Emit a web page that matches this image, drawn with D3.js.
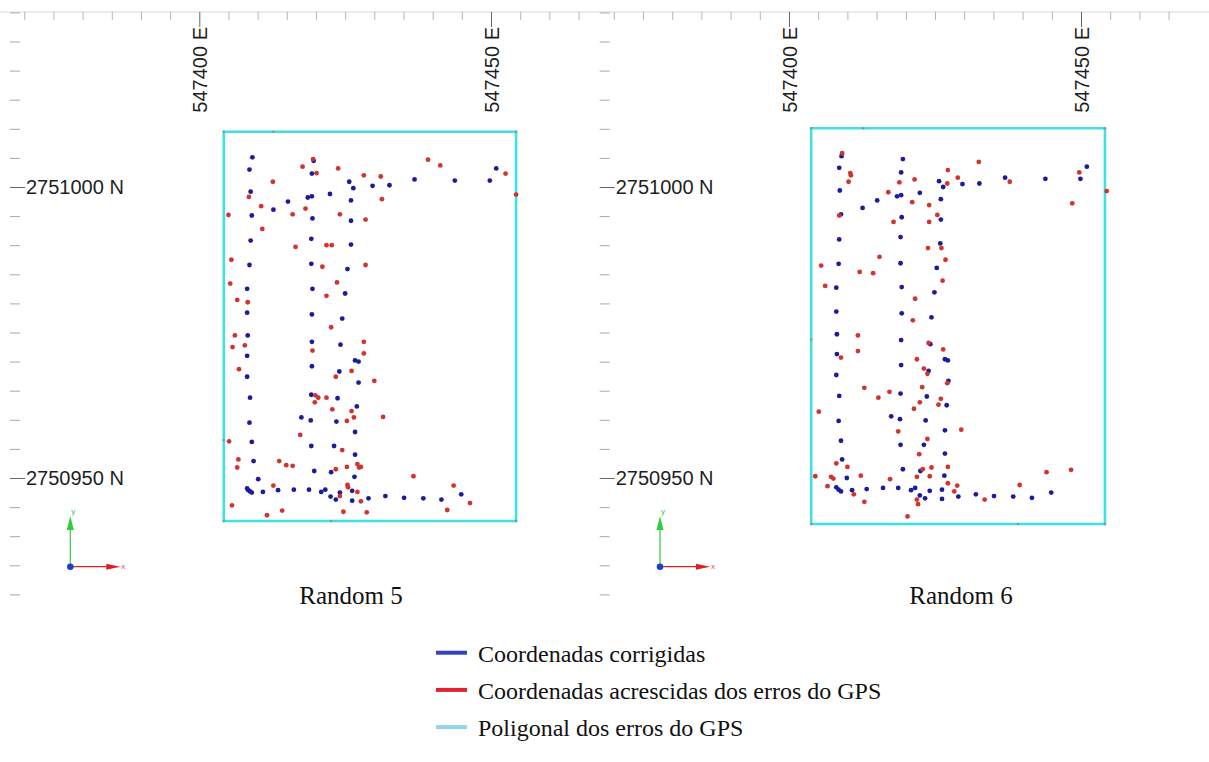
<!DOCTYPE html>
<html>
<head>
<meta charset="utf-8">
<script src="https://cdn.jsdelivr.net/npm/d3@7"></script>
<style>
  body { margin: 0; background: #fff; }
</style>
</head>
<body>
<div id="chart"></div>
<script>
// tick values (UTM metres)
var eastTicks = d3.range(547370, 547466, 5);
var eastLabels = [547400, 547450];
var northTicks = d3.range(2750930, 2751031, 5);
var northLabels = [2751000, 2750950];

var panelNames = ["Random 5", "Random 6"];
var legendLabels = ["Coordenadas corrigidas", "Coordenadas acrescidas dos erros do GPS", "Poligonal dos erros do GPS"];

// Random 5
var r5Corrected = [
  [547409.1,2751005.1],[547408.6,2751003.0],[547419.6,2751004.5],[547419.3,2751002.3],[547450.9,2751003.2],
  [547425.7,2751000.9],[547426.4,2750999.8],[547429.7,2751000.2],[547432.6,2751000.3],[547436.9,2751001.3],
  [547443.8,2751001.1],[547449.8,2751001.1],[547408.8,2750999.2],[547415.2,2750997.5],[547418.6,2750998.2],
  [547419.3,2750998.4],[547422.4,2750998.8],[547426.0,2750997.7],[547412.7,2750996.1],[547409.0,2750995.1],
  [547419.4,2750994.6],[547426.0,2750994.2],[547408.8,2750990.8],[547419.2,2750991.1],[547426.0,2750990.1],
  [547408.6,2750986.6],[547419.2,2750986.8],[547425.4,2750985.9],[547408.2,2750982.5],[547419.4,2750982.5],
  [547425.0,2750981.7],[547408.2,2750978.4],[547419.3,2750978.1],[547424.5,2750977.4],[547408.3,2750974.5],
  [547419.3,2750973.4],[547424.2,2750972.9],[547408.2,2750971.0],[547426.7,2750970.2],[547427.3,2750970.0],
  [547419.3,2750969.2],[547424.0,2750968.3],[547408.2,2750967.4],[547427.3,2750966.4],[547408.7,2750963.8],
  [547419.2,2750964.3],[547423.7,2750963.7],[547427.0,2750962.3],[547417.5,2750960.4],[547419.1,2750959.9],
  [547423.5,2750959.7],[547408.6,2750959.5],[547426.7,2750957.9],[547409.0,2750956.2],[547419.2,2750955.5],
  [547423.1,2750955.5],[547426.7,2750954.0],[547409.3,2750952.9],[547419.7,2750951.2],[547422.6,2750951.0],
  [547426.6,2750950.2],[547410.1,2750949.8],[547408.2,2750948.2],[547408.4,2750947.9],[547408.7,2750947.7],
  [547409.0,2750947.5],[547410.9,2750947.6],[547413.5,2750947.9],[547416.2,2750948.0],[547418.8,2750948.0],
  [547420.9,2750947.6],[547421.6,2750948.0],[547424.1,2750947.5],[547426.2,2750947.8],[547422.5,2750946.8],
  [547423.4,2750946.3],[547426.2,2750946.1],[547429.0,2750946.5],[547431.9,2750946.9],[547435.1,2750946.6],
  [547438.4,2750946.5],[547441.5,2750946.3],[547444.9,2750947.2]
];
var r5WithErrors = [
  [547419.5,2751004.8],[547417.7,2751003.5],[547420.1,2751002.4],[547423.8,2751003.2],[547412.6,2751000.9],
  [547439.2,2751004.7],[547441.3,2751003.7],[547452.5,2751002.3],[547454.3,2750998.7],[547428.2,2751002.0],
  [547431.1,2751001.8],[547408.5,2750998.3],[547431.3,2750997.9],[547410.6,2750996.7],[547418.2,2750996.3],
  [547405.0,2750995.2],[547416.0,2750995.3],[547424.1,2750995.3],[547428.5,2750994.4],[547410.8,2750992.8],
  [547416.5,2750989.7],[547421.8,2750990.0],[547422.7,2750990.0],[547405.5,2750987.5],[547421.1,2750986.3],
  [547428.5,2750986.6],[547405.3,2750983.4],[547423.6,2750983.6],[547421.8,2750981.3],[547406.5,2750980.6],
  [547408.3,2750980.2],[547422.6,2750975.9],[547406.1,2750974.5],[547405.7,2750972.5],[547407.8,2750972.8],
  [547428.2,2750973.4],[547419.4,2750971.9],[547428.2,2750971.4],[547406.8,2750968.7],[547426.1,2750968.4],
  [547423.4,2750967.4],[547430.0,2750966.7],[547419.9,2750964.2],[547420.4,2750963.8],[547421.8,2750963.8],
  [547419.8,2750963.0],[547422.8,2750961.8],[547426.1,2750961.5],[547426.5,2750960.4],[547431.5,2750960.5],
  [547425.3,2750959.8],[547417.3,2750957.4],[547405.1,2750956.3],[547424.5,2750954.8],[547406.7,2750953.2],
  [547413.7,2750952.9],[547414.9,2750952.2],[547416.0,2750952.1],[547406.5,2750951.8],[547427.1,2750952.4],
  [547427.7,2750951.9],[547427.4,2750951.8],[547425.3,2750951.9],[547423.4,2750951.5],[547436.7,2750950.3],
  [547412.7,2750948.7],[547425.4,2750948.8],[547425.5,2750948.4],[547443.6,2750948.7],[547424.1,2750946.9],
  [547427.1,2750947.6],[547427.7,2750946.0],[547446.4,2750945.7],[547442.5,2750944.5],[547405.6,2750945.3],
  [547414.2,2750944.4],[547411.6,2750943.6],[547424.7,2750944.2],[547428.7,2750944.1]
];
var r5Polygon = [
  [547404.2,2751009.5],[547412.7,2751009.5],[547454.3,2751009.5],[547454.3,2750942.6],
  [547422.6,2750942.6],[547404.2,2750942.6],[547404.2,2750956.5]
];

// Random 6
var r6Corrected = [
  [547409.0,2751005.3],[547419.5,2751004.8],[547408.6,2751003.3],[547419.2,2751002.5],[547425.7,2751001.0],
  [547426.4,2751000.0],[547429.7,2751000.5],[547432.6,2751000.6],[547437.0,2751001.6],[547443.9,2751001.4],
  [547451.0,2751003.5],[547449.9,2751001.4],[547408.7,2750999.4],[547418.5,2750998.4],[547419.2,2750998.6],
  [547422.4,2750999.0],[547415.1,2750997.7],[547426.0,2750997.9],[547412.6,2750996.4],[547408.9,2750995.3],
  [547419.3,2750994.8],[547426.0,2750994.4],[547408.6,2750991.0],[547419.1,2750991.4],[547425.9,2750990.3],
  [547408.5,2750986.8],[547419.1,2750986.9],[547425.3,2750986.1],[547408.1,2750982.7],[547419.3,2750982.8],
  [547424.9,2750981.9],[547408.1,2750978.6],[547419.3,2750978.3],[547424.4,2750977.6],[547408.2,2750974.7],
  [547419.2,2750973.7],[547424.2,2750973.0],[547408.2,2750971.3],[547419.2,2750969.4],[547426.7,2750970.4],
  [547427.2,2750970.2],[547423.9,2750968.4],[547408.1,2750967.7],[547427.3,2750966.7],[547419.1,2750964.5],
  [547408.6,2750964.1],[547423.6,2750964.0],[547427.0,2750962.5],[547417.5,2750960.6],[547419.0,2750960.1],
  [547408.5,2750959.8],[547423.4,2750959.9],[547426.7,2750958.2],[547408.9,2750956.4],[547419.1,2750955.7],
  [547423.1,2750955.7],[547426.7,2750954.2],[547409.1,2750953.2],[547419.5,2750951.5],[547422.5,2750951.2],
  [547409.9,2750950.0],[547426.6,2750950.4],[547408.1,2750948.4],[547408.5,2750948.0],[547408.9,2750947.7],
  [547410.8,2750947.9],[547413.3,2750948.1],[547416.1,2750948.3],[547418.7,2750948.3],[547420.9,2750947.9],
  [547421.6,2750948.3],[547424.1,2750947.8],[547426.2,2750948.0],[547429.0,2750946.8],[547432.0,2750947.2],
  [547435.1,2750946.9],[547438.4,2750946.8],[547441.6,2750946.6],[547444.9,2750947.5],[547422.4,2750947.0],
  [547423.3,2750946.5],[547426.2,2750946.4]
];
var r6WithErrors = [
  [547409.1,2751005.8],[547410.5,2751002.4],[547410.6,2751002.0],[547410.2,2751000.9],[547418.9,2751000.8],
  [547421.5,2751001.3],[547427.2,2751002.9],[547428.9,2751001.6],[547432.5,2751004.3],[547427.1,2751000.6],
  [547437.8,2751000.9],[547449.7,2751002.5],[547454.4,2750999.3],[547448.5,2750997.2],[547417.0,2750999.1],
  [547421.1,2750997.4],[547424.0,2750996.9],[547408.6,2750995.1],[547425.4,2750995.2],[547417.9,2750994.0],
  [547424.0,2750994.0],[547423.8,2750989.5],[547426.1,2750989.5],[547405.5,2750986.5],[547415.5,2750988.0],
  [547426.8,2750987.5],[547412.1,2750985.4],[547414.4,2750985.2],[547406.2,2750983.0],[547426.3,2750983.9],
  [547421.6,2750980.8],[547421.2,2750977.1],[547411.8,2750974.5],[547423.9,2750973.2],[547426.4,2750972.1],
  [547408.9,2750970.7],[547411.8,2750971.8],[547421.9,2750970.4],[547423.1,2750968.8],[547423.7,2750967.9],
  [547427.1,2750966.3],[547412.9,2750965.5],[547417.2,2750964.8],[547422.8,2750965.6],[547415.3,2750963.8],
  [547422.4,2750963.0],[547426.0,2750963.6],[547425.6,2750962.6],[547421.4,2750961.9],[547405.1,2750961.4],
  [547418.7,2750958.0],[547429.5,2750958.3],[547423.7,2750956.7],[547422.3,2750954.1],[547408.1,2750952.5],
  [547410.0,2750951.9],[547422.9,2750951.5],[547424.4,2750951.8],[547427.2,2750951.9],[547404.5,2750950.3],
  [547407.2,2750950.2],[547407.6,2750949.9],[547412.3,2750950.4],[547417.3,2750949.8],[547421.9,2750950.2],
  [547424.1,2750950.3],[547444.1,2750951.0],[547448.3,2750951.4],[547406.6,2750948.6],[547411.1,2750947.2],
  [547427.2,2750949.1],[547428.8,2750948.7],[547428.3,2750947.7],[547439.5,2750948.8],[547433.5,2750946.3],
  [547421.9,2750946.3],[547422.1,2750945.5],[547412.9,2750945.9],[547420.3,2750943.4]
];
var r6Polygon = [
  [547403.8,2751010.1],[547412.7,2751010.1],[547454.1,2751010.1],[547454.1,2750942.1],
  [547439.2,2750942.1],[547403.8,2750942.1],[547403.8,2750973.8]
];

var width = 1209, height = 762;
var blue = "#1b1b9e", red = "#d2332f", cyan = "#3fe0e6";
var legendColors = ["#3343bd", "#e0222e", "#93d3e6"];
var sansFont = "'Liberation Sans', Arial, sans-serif";
var serifFont = "'Liberation Serif', 'Times New Roman', serif";

var panels = [
  { name: panelNames[0], corrected: r5Corrected, errors: r5WithErrors, polygon: r5Polygon, xRange: [199.3, 491], titleX: 351 },
  { name: panelNames[1], corrected: r6Corrected, errors: r6WithErrors, polygon: r6Polygon, xRange: [789, 1081], titleX: 961 }
];

var y = d3.scaleLinear()
    .domain([2750950, 2751000])
    .range([478, 187]);

var svg = d3.select("#chart").append("svg")
    .attr("width", width)
    .attr("height", height)
    .style("font-family", sansFont);

// ruler line along the top
svg.append("line")
    .attr("x1", 0).attr("x2", width)
    .attr("y1", 12).attr("y2", 12)
    .attr("stroke", "#dadada");

panels.forEach(function(p) {
  var x = d3.scaleLinear()
      .domain([547400, 547450])
      .range(p.xRange);
  var dx = p.xRange[0] - panels[0].xRange[0];
  var g = svg.append("g");

  // top ruler, minor ticks
  g.append("g")
      .attr("transform", "translate(0,12)")
      .call(d3.axisBottom(x)
        .tickValues(eastTicks.filter(function(d) { return eastLabels.indexOf(d) < 0; }))
        .tickSize(8)
        .tickFormat(""))
      .call(function(a) {
        a.select(".domain").remove();
        a.selectAll("line").attr("stroke", "#b4b4b4");
      });

  // top ruler, labelled ticks (text rotated)
  g.append("g")
      .attr("transform", "translate(0,12)")
      .call(d3.axisBottom(x)
        .tickValues(eastLabels)
        .tickSize(15)
        .tickFormat(function(d) { return d + " E"; }))
      .call(function(a) {
        a.select(".domain").remove();
        a.selectAll("line").attr("stroke", "#666");
        a.selectAll("text")
          .attr("transform", "rotate(-90)")
          .attr("x", -15)
          .attr("y", 7)
          .attr("dy", null)
          .attr("text-anchor", "end")
          .attr("font-size", 20)
          .attr("font-family", sansFont)
          .attr("fill", "#1e1e1e");
      });

  // left ruler
  g.append("g")
      .attr("transform", "translate(" + (10 + dx) + ",0)")
      .call(d3.axisRight(y)
        .tickValues(northTicks.filter(function(d) { return northLabels.indexOf(d) < 0; }))
        .tickSize(10)
        .tickFormat(""))
      .call(function(a) {
        a.select(".domain").remove();
        a.selectAll("line").attr("stroke", "#a8a8a8");
      });

  g.append("g")
      .attr("transform", "translate(" + (10 + dx) + ",0)")
      .call(d3.axisRight(y)
        .tickValues(northLabels)
        .tickSize(15)
        .tickPadding(1)
        .tickFormat(function(d) { return d + " N"; }))
      .call(function(a) {
        a.select(".domain").remove();
        a.selectAll("line").attr("stroke", "#666");
        a.selectAll("text")
          .attr("font-size", 20)
          .attr("font-family", sansFont)
          .attr("fill", "#1e1e1e");
      });

  // error polygon
  var line = d3.line()
      .x(function(d) { return x(d[0]); })
      .y(function(d) { return y(d[1]); });

  g.append("path")
      .attr("d", line(p.polygon) + "Z")
      .attr("fill", "none")
      .attr("stroke", cyan)
      .attr("stroke-width", 2.6);

  g.selectAll(".vertex")
      .data(p.polygon)
    .enter().append("circle")
      .attr("class", "vertex")
      .attr("cx", function(d) { return x(d[0]); })
      .attr("cy", function(d) { return y(d[1]); })
      .attr("r", 1.3)
      .attr("fill", "#7f9a9a");

  // points
  g.selectAll(".corr")
      .data(p.corrected)
    .enter().append("circle")
      .attr("class", "corr")
      .attr("cx", function(d) { return x(d[0]); })
      .attr("cy", function(d) { return y(d[1]); })
      .attr("r", 2.4)
      .attr("fill", blue);

  g.selectAll(".err")
      .data(p.errors)
    .enter().append("circle")
      .attr("class", "err")
      .attr("cx", function(d) { return x(d[0]); })
      .attr("cy", function(d) { return y(d[1]); })
      .attr("r", 2.4)
      .attr("fill", red);

  // small xy orientation icon
  var ox = 70.3 + dx, oy = 566.7;
  var icon = g.append("g");
  icon.append("line").attr("x1", ox).attr("y1", oy).attr("x2", ox).attr("y2", 522)
      .attr("stroke", "#2ecc40").attr("stroke-width", 1.2);
  icon.append("path")
      .attr("d", "M" + (ox - 3.5) + "," + 530 + "L" + ox + "," + 516 + "L" + (ox + 3.5) + "," + 530 + "Z")
      .attr("fill", "#2ecc40");
  icon.append("line").attr("x1", ox).attr("y1", oy).attr("x2", ox + 42).attr("y2", oy)
      .attr("stroke", "#e02020").attr("stroke-width", 1.2);
  icon.append("path")
      .attr("d", "M" + (ox + 36) + "," + (oy - 3) + "L" + (ox + 50) + "," + oy + "L" + (ox + 36) + "," + (oy + 3) + "Z")
      .attr("fill", "#e02020");
  icon.append("circle").attr("cx", ox).attr("cy", oy).attr("r", 3.3).attr("fill", "#1a3fd0");
  icon.append("text").attr("x", ox + 1).attr("y", 514).attr("font-size", 8).attr("fill", "#2ecc40").text("y");
  icon.append("text").attr("x", ox + 51).attr("y", oy + 2.5).attr("font-size", 8).attr("fill", "#e05050").text("x");

  // panel title
  svg.append("text")
      .attr("x", p.titleX)
      .attr("y", 604)
      .attr("text-anchor", "middle")
      .attr("font-family", serifFont)
      .attr("font-size", 25)
      .attr("fill", "#111")
      .text(p.name);
});

// legend
var legend = svg.selectAll(".legend")
    .data(legendLabels)
  .enter().append("g")
    .attr("class", "legend")
    .attr("transform", function(d, i) { return "translate(436," + (652.7 + i * 37.2) + ")"; });

legend.append("line")
    .attr("x1", 0).attr("x2", 31)
    .attr("stroke", function(d, i) { return legendColors[i]; })
    .attr("stroke-width", 4);

legend.append("text")
    .attr("x", 42)
    .attr("y", 9)
    .attr("font-family", serifFont)
    .attr("font-size", 24)
    .attr("fill", "#111")
    .text(function(d) { return d; });
</script>
</body>
</html>
